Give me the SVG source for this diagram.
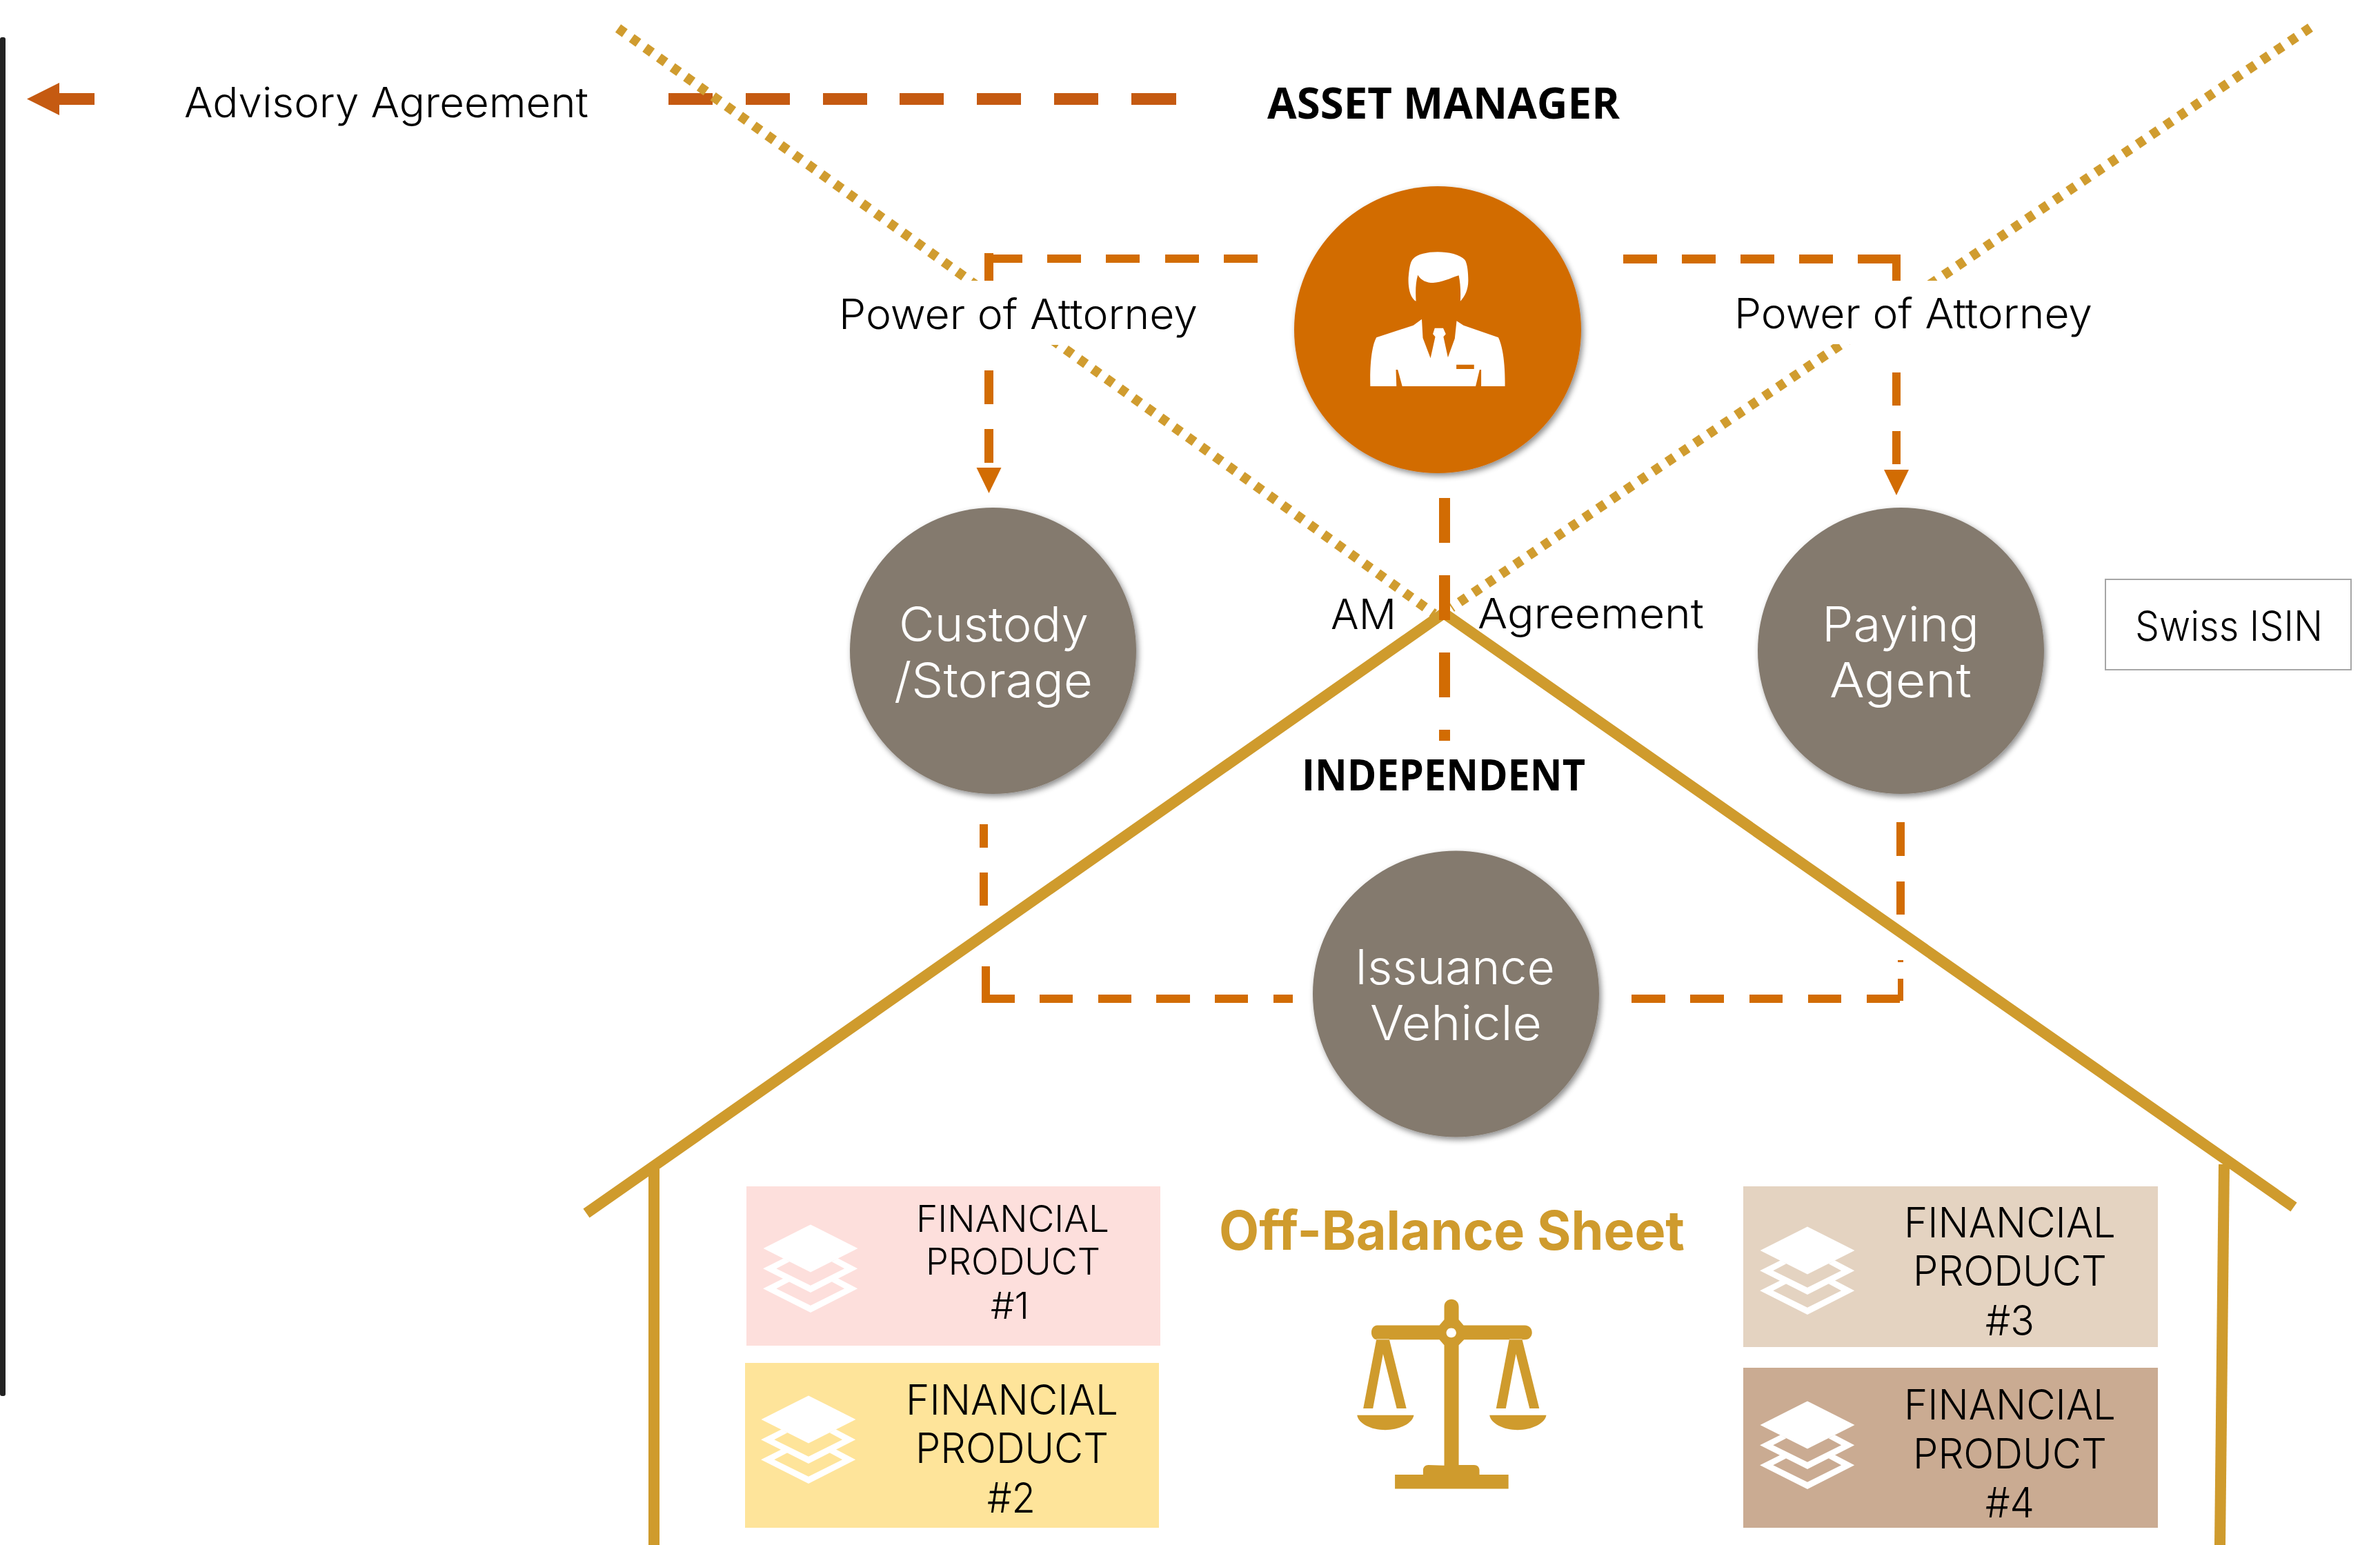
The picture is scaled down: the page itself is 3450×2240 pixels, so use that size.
<svg xmlns="http://www.w3.org/2000/svg" xmlns:xlink="http://www.w3.org/1999/xlink" width="3450" height="2240" viewBox="0 0 3450 2240">
<style>
text{font-family:"Inter","Lato","Liberation Sans",sans-serif;font-weight:300;fill:#000;text-anchor:start}
.b{font-family:"Open Sans","Liberation Sans",sans-serif;font-weight:700}
.w{fill:#fff}
.dot{fill:none;stroke:#d09c2f;stroke-width:14;stroke-dasharray:12 12.2}
.dash{fill:#d26c03}
.roof{fill:none;stroke:#cf9b2d;stroke-width:16}
.grey{fill:#847a6e;filter:url(#sh)}
.lay{fill:#fff}
</style>
<defs>
<filter id="sh" x="-10%" y="-10%" width="125%" height="125%"><feDropShadow dx="3" dy="4" stdDeviation="4" flood-color="#000" flood-opacity=".45"/></filter>
<g id="layers">
<polygon points="0,-34.6 68.5,0 0,34.6 -68.5,0"/>
<polygon points="-38.9,14.3 -68.9,29.3 0,64 68.2,29.3 39.5,14.3 30.6,19.2 49.1,29.3 0,53.8 -49.7,29.3 -30.6,19.2"/>
<polygon points="-38.9,43.3 -68.9,58.3 0,93 68.2,58.3 39.5,43.3 30.6,48.2 49.1,58.3 0,82.8 -49.7,58.3 -30.6,48.2"/>
</g>
</defs>
<rect width="3450" height="2240" fill="#fff"/>
<g id="legend">
<rect x="0" y="54" width="8" height="1970" rx="3" fill="#222"/>
<polygon points="39,143.5 86,120 86,135 137,135 137,152 86,152 86,167" fill="#c55a11"/>
<path fill="#c55a11" d="M969 135h64v17h-64zM1081 135h64v17h-64zM1193 135h64v17h-64zM1304 135h64v17h-64zM1416 135h64v17h-64zM1528 135h64v17h-64zM1640 135h65v17h-65z"/>
<text x="267" y="170" font-size="60" textLength="586" lengthAdjust="spacingAndGlyphs">Advisory Agreement</text>
</g>
<g id="connectors">
<path class="dot" d="M896,41 L2079,890"/>
<path class="dot" d="M3349,40 L2104,881"/>
<path class="roof" d="M850,1759 L2093,889 L3325,1750"/>
<rect x="940" y="1695" width="16" height="545" fill="#cf9b2d"/>
<polygon points="3216,1688 3232,1688 3226,2240 3210,2240" fill="#cf9b2d"/>
<path class="dash" d="M2086 722h16v65h-16zM2086 834h16v65h-16zM2086 946h16v65h-16zM2086 1058h16v16h-16z"/>
<path class="dash" d="M1427 367h13v41h-13zM1427 369h55v12h-55zM1518 369h49v12h-49zM1603 369h49v12h-49zM1689 369h49v12h-49zM1774 369h49v12h-49zM1427 537h13v49h-13zM1427 622h13v49h-13z"/>
<polygon class="dash" points="1415.5,678 1451.5,678 1433.5,715"/>
<path class="dash" d="M2353 369h49v13h-49zM2438 369h49v13h-49zM2523 369h49v13h-49zM2608 369h49v13h-49zM2693 369h50v13h-50zM2743 369h12v38h-12zM2743 540h12v48h-12zM2743 625h12v48h-12z"/>
<polygon class="dash" points="2731,681 2767,681 2749,718"/>
<path class="dash" d="M1420 1195h12v34h-12zM1420 1265h12v48h-12zM1423 1401h12v53h-12zM1423 1442h48v12h-48zM1507 1442h48v12h-48zM1592 1442h48v12h-48zM1676 1442h49v12h-49zM1761 1442h48v12h-48zM1846 1442h28v12h-28z"/>
<path class="dash" d="M2749 1192h12v49h-12zM2749 1278h12v48h-12zM2751 1392h8v3h-8zM2751 1419h8v32h-8zM2365 1442h49v12h-49zM2450 1442h49v12h-49zM2536 1442h48v12h-48zM2621 1442h48v12h-48zM2706 1442h48v12h-48z"/>
</g>
<g id="label-poa-left">
<rect x="1216" y="407" width="520" height="93" fill="#fff"/>
<text x="1216" y="477" font-size="60" textLength="520" lengthAdjust="spacingAndGlyphs">Power of Attorney</text>
</g>
<g id="label-poa-right">
<rect x="2514" y="407" width="520" height="92" fill="#fff"/>
<text x="2514" y="476" font-size="60" textLength="519" lengthAdjust="spacingAndGlyphs">Power of Attorney</text>
</g>
<g id="label-am">
<text x="1929" y="912" font-size="60" textLength="95" lengthAdjust="spacingAndGlyphs">AM</text>
<text x="2142" y="911" font-size="60" textLength="328" lengthAdjust="spacingAndGlyphs">Agreement</text>
</g>
<g id="label-asset">
<text class="b" x="1837" y="172" font-size="62" textLength="511" lengthAdjust="spacingAndGlyphs">ASSET MANAGER</text>
</g>
<g id="label-independent">
<text class="b" x="1887" y="1146" font-size="62" textLength="411" lengthAdjust="spacingAndGlyphs">INDEPENDENT</text>
</g>
<g id="node-manager">
<circle cx="2084" cy="478" r="208" fill="#d26c03" filter="url(#sh)"/>
<path fill="#fff" fill-rule="evenodd" transform="translate(1800,240) scale(.3827,.3333)" d="M660 590C630 570 630 500 632 480C635 440 640 415 650 405C680 365 810 365 845 410C855 425 858 470 858 500C858 540 845 570 828 590C830 550 828 510 822 478C790 490 755 510 725 510C700 510 680 500 667 476C658 510 658 550 660 590ZM487 960C485 880 490 790 510 748L650 695L682 668L686 750L715 838L733 745L724 733L731 707L763 707L773 733L764 745L781 835L807 752L814 676L840 695L972 748C990 790 998 870 997 960L907 960L907 888L901 888L886 960L608 960L591 888L584 888L586 960ZM813 866V885H880V866Z"/>
</g>
<g id="node-custody">
<circle class="grey" cx="1439.5" cy="943.5" r="207.5"/>
<text class="w" x="1303" y="930" font-size="70" textLength="275" lengthAdjust="spacingAndGlyphs">Custody</text>
<text class="w" x="1296" y="1011" font-size="70" textLength="288" lengthAdjust="spacingAndGlyphs">/Storage</text>
</g>
<g id="node-paying">
<circle class="grey" cx="2755.5" cy="943.5" r="207.5"/>
<text class="w" x="2641" y="930" font-size="70" textLength="228" lengthAdjust="spacingAndGlyphs">Paying</text>
<text class="w" x="2652" y="1011" font-size="70" textLength="206" lengthAdjust="spacingAndGlyphs">Agent</text>
</g>
<g id="node-issuance">
<circle class="grey" cx="2110.5" cy="1441" r="207.5"/>
<text class="w" x="1964" y="1427" font-size="70" textLength="290" lengthAdjust="spacingAndGlyphs">Issuance</text>
<text class="w" x="1986" y="1508" font-size="70" textLength="249" lengthAdjust="spacingAndGlyphs">Vehicle</text>
</g>
<g id="node-isin">
<rect x="3052" y="840" width="356" height="131" fill="#fff" stroke="#a6a6a6" stroke-width="2"/>
<text x="3095" y="929" font-size="60" textLength="272" lengthAdjust="spacingAndGlyphs">Swiss ISIN</text>
</g>
<g id="node-fp1">
<rect x="1082" y="1720" width="600" height="231" fill="#fddfdc"/>
<use href="#layers" class="lay" x="1175" y="1810"/>
<text x="1328" y="1786" font-size="54" textLength="280" lengthAdjust="spacingAndGlyphs">FINANCIAL</text>
<text x="1342" y="1848" font-size="54" textLength="253" lengthAdjust="spacingAndGlyphs">PRODUCT</text>
<text x="1436" y="1912" font-size="54" textLength="56" lengthAdjust="spacingAndGlyphs">#1</text>
</g>
<g id="node-fp2">
<rect x="1080" y="1976" width="600" height="239" fill="#fee49a"/>
<use href="#layers" class="lay" x="1172" y="2058"/>
<text x="1313" y="2051" font-size="60" textLength="308" lengthAdjust="spacingAndGlyphs">FINANCIAL</text>
<text x="1327" y="2121" font-size="60" textLength="280" lengthAdjust="spacingAndGlyphs">PRODUCT</text>
<text x="1431" y="2193" font-size="60" textLength="70" lengthAdjust="spacingAndGlyphs">#2</text>
</g>
<g id="node-fp3">
<rect x="2527" y="1720" width="601" height="233" fill="#e4d3c1"/>
<use href="#layers" class="lay" x="2620" y="1813"/>
<text x="2760" y="1794" font-size="60" textLength="307" lengthAdjust="spacingAndGlyphs">FINANCIAL</text>
<text x="2773" y="1864" font-size="60" textLength="281" lengthAdjust="spacingAndGlyphs">PRODUCT</text>
<text x="2878" y="1936" font-size="60" textLength="71" lengthAdjust="spacingAndGlyphs">#3</text>
</g>
<g id="node-fp4">
<rect x="2527" y="1983" width="601" height="232" fill="#caab92"/>
<use href="#layers" class="lay" x="2620" y="2066"/>
<text x="2760" y="2058" font-size="60" textLength="307" lengthAdjust="spacingAndGlyphs">FINANCIAL</text>
<text x="2773" y="2129" font-size="60" textLength="281" lengthAdjust="spacingAndGlyphs">PRODUCT</text>
<text x="2878" y="2200" font-size="60" textLength="71" lengthAdjust="spacingAndGlyphs">#4</text>
</g>
<g id="off-balance">
<text x="1767" y="1812" font-size="78" textLength="675" lengthAdjust="spacingAndGlyphs" style="font-weight:700;fill:#cf9b2d">Off-Balance Sheet</text>
<path fill="#cf9b2d" fill-rule="evenodd" transform="translate(1700,1650) scale(.6378,.3762)" d="M617 1262V650C617 612 650 612 650 650V700L661 722H800C822 722 822 777 800 777H662L650 798V1260H685C692 1260 697 1268 697 1280V1297H763V1352H505V1297H569V1280C569 1268 574 1260 581 1260ZM633 732C618 732 618 769 633 769C648 769 648 732 633 732ZM617 700V798L606 777H465C447 777 447 722 465 722H606ZM463 775L433 1042H455L478 832L509 1042H531L492 775ZM765 775L735 1042H757L780 832L811 1042H833L794 775ZM419 1068H548C545 1100 515 1125 483 1125C450 1125 422 1100 419 1068ZM720 1068H849C846 1100 816 1125 784 1125C751 1125 723 1100 720 1068Z"/>
</g>
</svg>
